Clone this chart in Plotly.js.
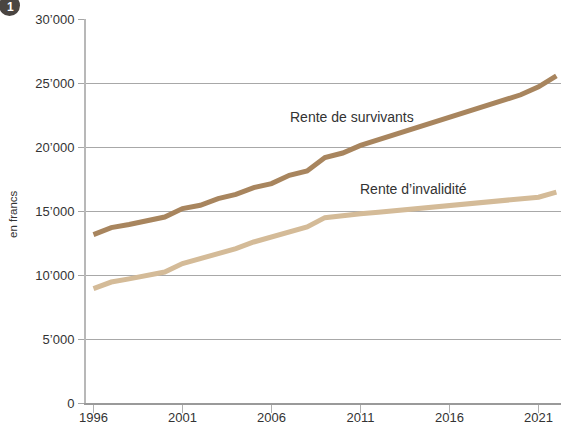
<!DOCTYPE html>
<html>
<head>
<meta charset="utf-8">
<script src="https://cdn.plot.ly/plotly-3.0.1.min.js"></script>
<style>
  html, body { margin: 0; padding: 0; background: #fff; }
  #chart { width: 561px; height: 429px; }
</style>
</head>
<body>
<div id="chart"></div>
<script>
// ---- Data ----
const years = [1996,1997,1998,1999,2000,2001,2002,2003,2004,2005,2006,2007,2008,2009,2010,2011,2012,2013,2014,2015,2016,2017,2018,2019,2020,2021,2022];
const renteSurvivants = [13160,13700,13950,14250,14530,15190,15450,15970,16300,16830,17140,17790,18130,19170,19530,20130,20560,21000,21420,21830,22270,22730,23180,23620,24080,24700,25550];
const renteInvalidite = [8940,9450,9700,10000,10230,10890,11280,11720,12060,12580,12970,13440,13750,14480,14660,14780,14900,15030,15160,15290,15410,15530,15660,15790,15910,16080,16470];
const seriesNames = ["Rente de survivants", "Rente d\u2019invalidit\u00e9"];
const xTickVals = [1996,2001,2006,2011,2016,2021];
const xTickText = ["1996","2001","2006","2011","2016","2021"];
const yTickVals = [0,5000,10000,15000,20000,25000,30000];
const yTickText = ["0","5\u2019000","10\u2019000","15\u2019000","20\u2019000","25\u2019000","30\u2019000"];
const yAxisTitle = "en francs";
const badgeText = "1";

// ---- Layout helpers ----
const W = 561, H = 429;
const M = {l: 86, r: 0, t: 19, b: 26};
const pw = W - M.l - M.r, ph = H - M.t - M.b;
const px = x => (x - M.l) / pw;
const py = y => (H - M.b - y) / ph;

const font = "Liberation Sans, Arial, Helvetica, sans-serif";

const traces = [
  {x: years, y: renteSurvivants, name: seriesNames[0], type: "scatter", mode: "lines",
   line: {color: "#a8855e", width: 5}, hoverinfo: "skip"},
  {x: years, y: renteInvalidite, name: seriesNames[1], type: "scatter", mode: "lines",
   line: {color: "#d4bb98", width: 5}, hoverinfo: "skip"}
];

const layout = {
  width: W, height: H,
  margin: M,
  paper_bgcolor: "#fff", plot_bgcolor: "#fff",
  showlegend: false,
  font: {family: font, size: 13, color: "#333"},
  xaxis: {
    range: [1995.58, 2022.26],
    tickvals: xTickVals, ticktext: xTickText,
    ticks: "outside", ticklen: 8, tickcolor: "#b0b0b0", tickwidth: 1.5,
    ticklabelstandoff: -7,
    showline: true, linecolor: "#9a9a9a", linewidth: 2,
    showgrid: false, zeroline: false,
    tickfont: {family: font, size: 13, color: "#333"},
    fixedrange: true
  },
  yaxis: {
    range: [0, 30000],
    tickvals: yTickVals, ticktext: yTickText,
    ticks: "outside", ticklen: 6, tickcolor: "#a6a6a6", tickwidth: 1,
    ticklabelstandoff: 1,
    showline: true, linecolor: "#b8b8b8", linewidth: 2,
    showgrid: true, gridcolor: "#a8a8a8", gridwidth: 1,
    zeroline: false,
    tickfont: {family: font, size: 13, color: "#333"},
    fixedrange: true
  },
  shapes: [
    {type: "circle", xref: "paper", yref: "paper",
     x0: px(-1), x1: px(20), y0: py(16), y1: py(-5),
     fillcolor: "#4a4541", line: {width: 0}, layer: "above"}
  ],
  annotations: [
    {xref: "paper", yref: "paper", x: px(10.5), y: py(7), text: "<b>" + badgeText + "</b>",
     showarrow: false, font: {family: font, size: 12, color: "#fff"}, xanchor: "center", yanchor: "middle"},
    {xref: "paper", yref: "paper", x: px(13), y: py(214), text: yAxisTitle, textangle: -90,
     showarrow: false, font: {family: font, size: 11.5, color: "#333"}, xanchor: "center", yanchor: "middle"},
    {xref: "x", yref: "y", x: 2010.52, y: 22340, text: seriesNames[0], showarrow: false,
     font: {family: font, size: 14, color: "#333"}, xanchor: "center", yanchor: "middle"},
    {xref: "x", yref: "y", x: 2013.95, y: 16720, text: seriesNames[1], showarrow: false,
     font: {family: font, size: 14, color: "#333"}, xanchor: "center", yanchor: "middle"}
  ]
};

Plotly.newPlot("chart", traces, layout, {staticPlot: true, displayModeBar: false});
</script>
</body>
</html>
